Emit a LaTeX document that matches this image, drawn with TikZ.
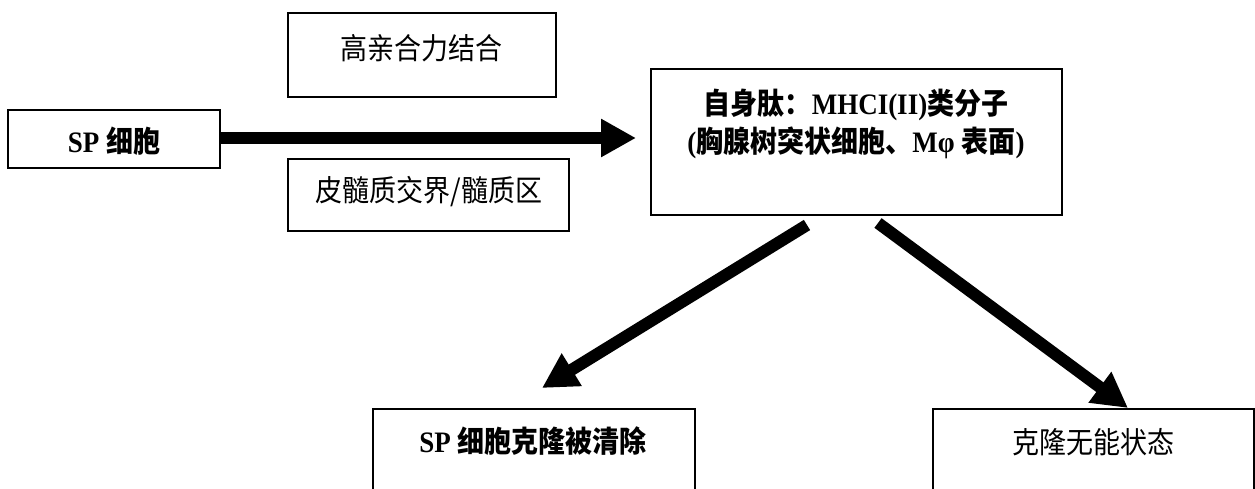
\documentclass[tikz,border=0pt]{standalone}
\usepackage{fontspec}
\usepackage{graphicx}
\setmainfont{Liberation Serif}
\newfontfamily\cjk{Noto Sans CJK SC}
\usetikzlibrary{arrows.meta}
\newcommand{\vstr}[1]{\scalebox{1}[1.1]{#1}}
\begin{document}
\begin{tikzpicture}[x=1pt,y=-1pt,
  box/.style={draw=black, line width=1.6pt, inner sep=0pt},
  txt/.style={inner sep=0pt, align=center, font=\fontsize{27}{38}\selectfont},
  bigarrow/.style={line width=12pt, -{Triangle[length=35pt,width=36pt]}}]
\useasboundingbox (0,0) rectangle (1255,489);
\clip (0,0) rectangle (1255,489);
% boxes
\node[box, minimum width=212pt, minimum height=58pt] (sp) at (114,139) {};
\node[box, minimum width=268pt, minimum height=84pt] (gao) at (422,55) {};
\node[box, minimum width=281pt, minimum height=72pt] (pi) at (428.5,195) {};
\node[box, minimum width=411pt, minimum height=146pt] (self) at (856.5,142) {};
\node[box, minimum width=322pt, minimum height=120pt] (clear) at (534,469) {};
\node[box, minimum width=321pt, minimum height=120pt] (anergy) at (1093.5,469) {};
% texts
\node[txt] (sptxt) at (114,141) {\vstr{\bfseries SP {\cjk 细胞}}};
\node[txt] (gaotxt) at (421,48) {\vstr{\cjk 高亲合力结合}};
\node[txt] (pitxt) at (429,192) {\vstr{\cjk 皮髓质交界/髓质区}};
\node[txt] (selftxt) at (856,124) {\vstr{\bfseries{\cjk 自身肽：}MHCI(II){\cjk 类分子}}\\
  \vstr{\bfseries({\cjk 胸腺树突状细胞、}Mφ {\cjk 表面})}};
\node[txt] (cleartxt) at (533,441) {\vstr{\bfseries SP {\cjk 细胞克隆被清除}}};
\node[txt] (anergytxt) at (1093,442) {\vstr{\cjk 克隆无能状态}};
% connector end points
\coordinate (a1s) at (220,138);
\coordinate (a1e) at (636,138);
\coordinate (a2s) at (807,225);
\coordinate (a2e) at (542,388);
\coordinate (a3s) at (878,223);
\coordinate (a3e) at (1128,408);
\draw[bigarrow] (a1s) -- (a1e);
\draw[bigarrow] (a2s) -- (a2e);
\draw[bigarrow] (a3s) -- (a3e);
\end{tikzpicture}
\end{document}
